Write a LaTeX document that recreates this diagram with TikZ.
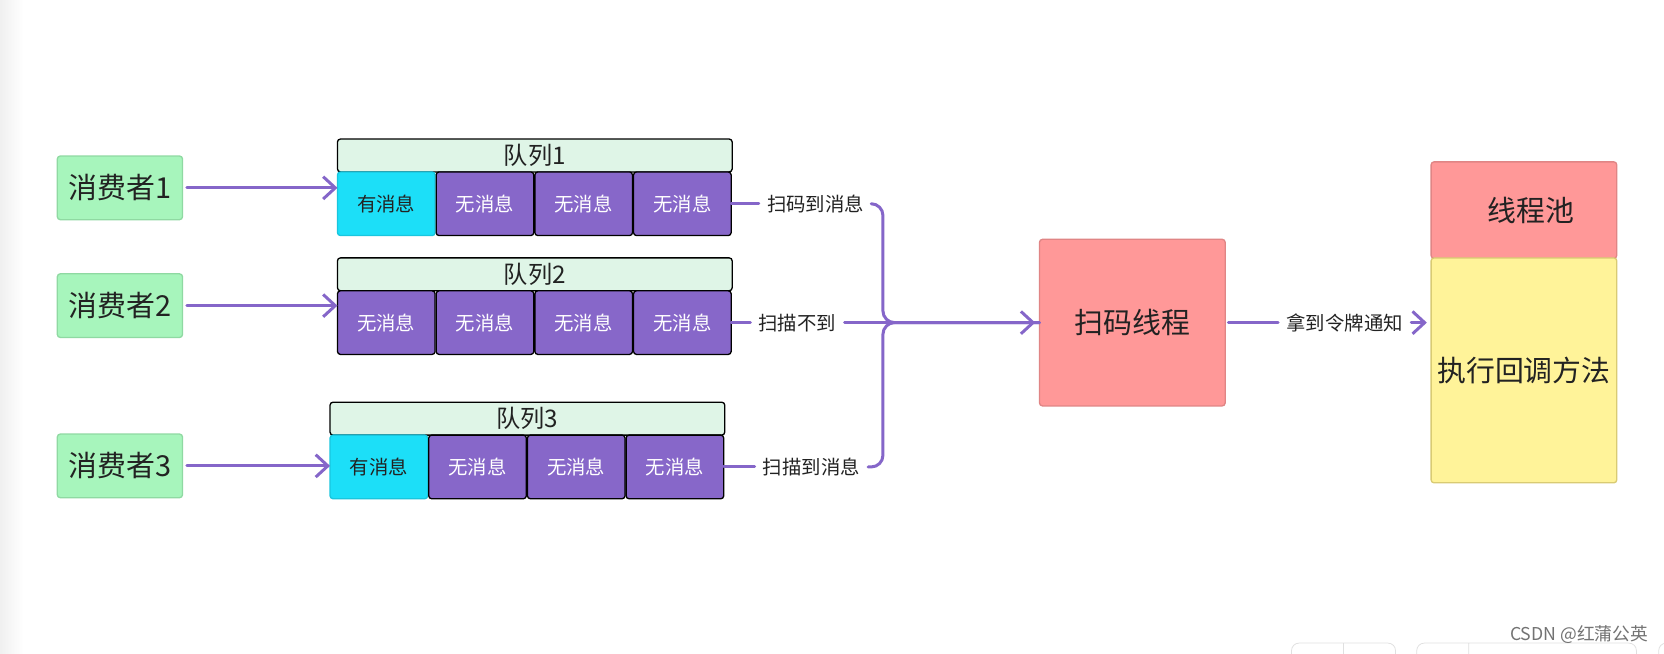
\documentclass[tikz,border=0pt]{standalone}
\usepackage{fontspec}
\setmainfont{Noto Sans CJK SC}
\usetikzlibrary{arrows.meta}
\definecolor{flowP}{HTML}{8566C9}
\definecolor{cellP}{HTML}{8767C9}
\definecolor{cellC}{HTML}{1CDFF8}
\definecolor{cellCB}{HTML}{19C6DE}
\definecolor{consG}{HTML}{A7F5BC}
\definecolor{consB}{HTML}{8FD9A2}
\definecolor{titleG}{HTML}{DFF5E7}
\definecolor{poolR}{HTML}{FF9898}
\definecolor{poolB}{HTML}{E08585}
\definecolor{cbY}{HTML}{FFF399}
\definecolor{cbB}{HTML}{D9CB73}
\definecolor{txt}{HTML}{222222}
\newcommand{\bigFont}[0]{\fontsize{15.5}{18}\selectfont}
\newcommand{\smallFont}[0]{\fontsize{10.4}{12}\selectfont}

\begin{document}
\begin{tikzpicture}[x=0.02cm, y=-0.02cm]
  \tikzset{
    box/.style={rounded corners=1.6pt, inner sep=0pt, outer sep=0pt, text=txt, line width=0.7pt},
    consumer/.style={box, draw=consB, fill=consG, minimum width=2.36cm, minimum height=1.2cm, font=\bigFont},
    qtitle/.style={box, draw=black, fill=titleG, anchor=north west, minimum width=7.44cm, minimum height=0.62cm, font=\fontsize{13}{15}\selectfont},
    cellbox/.style={box, anchor=north west, minimum width=1.84cm, minimum height=1.2cm, font=\smallFont},
    fullcell/.style={cellbox, draw=cellCB, fill=cellC},
    emptycell/.style={cellbox, draw=black, fill=cellP, text=white},
    flow/.style={draw=flowP, line width=1.6pt, line cap=round, line join=round},
    tip/.style={flow, -{Straight Barb[length=6.5pt, width=12pt, line width=1.6pt]}},
    elabel/.style={anchor=west, inner xsep=0.15cm, inner ysep=0pt, text=txt, font=\smallFont}
  }
  \useasboundingbox[fill=white] (0,0) rectangle (1568,616);
  \shade[left color=black!6, right color=white] (0,0) rectangle (22,616);

  \foreach \i/\y in {1/177, 2/288, 3/439}
    \node[consumer] (c-\i) at (113,\y) {消费者\i};

  \foreach \i/\x/\y/\s/\t in {1/318/131/fullcell/有消息, 2/318/243/emptycell/无消息, 3/311/379/fullcell/有消息} {
    \node[qtitle] (t-\i) at (\x,\y) {队列\i};
    \node[\s] (q-\i-1) at (\x,\y+31) {\t};
    \foreach \k in {2,3,4}
      \node[emptycell] (q-\i-\k) at (\x+93*\k-93,\y+31) {无消息};
    \draw[tip, shorten <=0.08cm] (c-\i.east) -- (c-\i.east -| q-\i-1.west);
  }

  \node[elabel] (l-1) at ([xshift=0.52cm]q-1-4.east) {扫码到消息};
  \node[elabel] (l-2) at ([xshift=0.36cm]q-2-4.east) {扫描不到};
  \node[elabel] (l-3) at ([xshift=0.58cm]q-3-4.east) {扫描到消息};
  \foreach \i in {1,2,3}
    \draw[flow] (q-\i-4.east) -- (l-\i.west);

  \node[box, draw=poolB, fill=poolR, minimum width=3.5cm, minimum height=3.14cm, font=\bigFont] (scan) at (1067,304) {扫码线程};
  \coordinate (merge) at (832,304);
  \draw[flow, rounded corners=0.22cm] (l-1.east) -| (merge) -- (scan.west);
  \draw[flow, rounded corners=0.22cm] (l-3.east) -| (merge) -- (scan.west);
  \draw[tip, shorten >=0.08cm] (l-2.east) -- (l-2.east -| scan.west);

  \node[box, draw=poolB, fill=poolR, minimum width=3.5cm, minimum height=1.82cm, font=\bigFont] (pool) at (1436,198) {\hspace{0.26cm}\raisebox{-0.15cm}{线程池}};
  \node[box, draw=cbB, fill=cbY, minimum width=3.5cm, minimum height=4.24cm, font=\bigFont] (cb) at (1436,349) {执行回调方法};
  \node[elabel] (l-4) at ([xshift=1.0cm]scan.east) {拿到令牌通知};
  \draw[flow, shorten <=0.06cm] (scan.east) -- (l-4.west);
  \draw[tip, shorten >=0.08cm] (l-4.east) -- (l-4.east -| cb.west);

  \draw[black!12, rounded corners=4pt] (1217,606) rectangle (1315,640) (1266,606) -- (1266,640);
  \draw[black!12, rounded corners=4pt] (1335,606) rectangle (1542,640) (1384,606) -- (1384,640);
  \draw[black!12, rounded corners=4pt] (1563,606) rectangle (1600,640);
  \node[text=black!55, font=\fontsize{9.5}{11}\selectfont] (mark) at (1488,598) {CSDN @红蒲公英};
\end{tikzpicture}
\end{document}
